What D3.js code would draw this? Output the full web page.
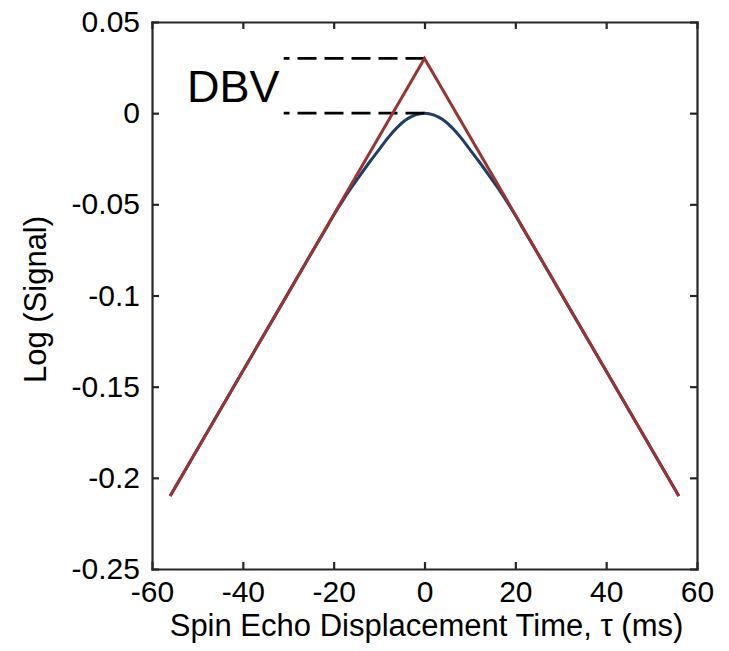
<!DOCTYPE html>
<html>
<head>
<meta charset="utf-8">
<script src="https://cdn.jsdelivr.net/npm/d3@7/dist/d3.min.js"></script>
<style>
  body { margin: 0; background: #fff; }
  svg { display: block; font-family: "Liberation Sans", Arial, Helvetica, sans-serif; }
  .axis path, .axis line { stroke: #262626; stroke-width: 2.2; }
  .axis text { fill: #000; font-size: 30px; }
</style>
</head>
<body>
<svg id="chart" width="729" height="651"></svg>
<script>
// tau (ms) and log-signal values
const tauBlue = [-56, -40, -30, -25, -22, -20, -18, -16, -14, -12, -10, -8, -6, -4, -2, 0,
                 2, 4, 6, 8, 10, 12, 14, 16, 18, 20, 22, 25, 30, 40, 56];
const signalBlue = [-0.2100, -0.1414, -0.0987, -0.0773, -0.0646, -0.0560, -0.0480, -0.0405, -0.0334, -0.0265,
                    -0.0200, -0.0134, -0.0078, -0.0035, -0.0009, 0,
                    -0.0009, -0.0035, -0.0078, -0.0134, -0.0200, -0.0265, -0.0334, -0.0405, -0.0480,
                    -0.0560, -0.0646, -0.0773, -0.0987, -0.1414, -0.2100];
const tauRed = [-56, 0, 56];
const signalRed = [-0.21, 0.03, -0.21];

// DBV guide lines: from tau = 0 back to tau = -31 at the two levels
const dbvLevels = [0.03, 0];
const dbvTauStart = 0;
const dbvTauEnd = -31;

const xTicks = [-60, -40, -20, 0, 20, 40, 60];
const xTickLabels = ['-60', '-40', '-20', '0', '20', '40', '60'];
const yTicks = [0.05, 0, -0.05, -0.1, -0.15, -0.2, -0.25];
const yTickLabels = ['0.05', '0', '-0.05', '-0.1', '-0.15', '-0.2', '-0.25'];

const X_LEFT = 152, X_RIGHT = 697, Y_TOP = 22, Y_BOTTOM = 569;
const TICK = 7;

const svg = d3.select('#chart');

const x = d3.scaleLinear().domain([-60, 60]).range([X_LEFT, X_RIGHT]);
const y = d3.scaleLinear().domain([-0.25, 0.05]).range([Y_BOTTOM, Y_TOP]);

function labelFor(ticks, labels) {
    return v => labels[ticks.indexOf(v)];
}

// bottom / left axes with labels, top / right as plain box sides
svg.append('g')
    .attr('class', 'axis')
    .attr('transform', `translate(0,${Y_BOTTOM})`)
    .call(d3.axisBottom(x).tickValues(xTicks).tickFormat(labelFor(xTicks, xTickLabels))
        .tickSizeInner(-TICK).tickSizeOuter(0).tickPadding(12));

svg.append('g')
    .attr('class', 'axis')
    .attr('transform', `translate(${X_LEFT},0)`)
    .call(d3.axisLeft(y).tickValues(yTicks).tickFormat(labelFor(yTicks, yTickLabels))
        .tickSizeInner(-TICK).tickSizeOuter(0).tickPadding(12));

svg.append('g')
    .attr('class', 'axis')
    .attr('transform', `translate(0,${Y_TOP})`)
    .call(d3.axisTop(x).tickValues(xTicks).tickFormat('').tickSizeInner(-TICK).tickSizeOuter(0));

svg.append('g')
    .attr('class', 'axis')
    .attr('transform', `translate(${X_RIGHT},0)`)
    .call(d3.axisRight(y).tickValues(yTicks).tickFormat('').tickSizeInner(-TICK).tickSizeOuter(0));

svg.selectAll('.axis .domain').attr('stroke-linecap', 'square');

// curves
const line = d3.line().x(d => x(d[0])).y(d => y(d[1]));

svg.append('path')
    .datum(d3.zip(tauBlue, signalBlue))
    .attr('d', line.curve(d3.curveMonotoneX))
    .attr('fill', 'none')
    .attr('stroke', '#1d3d6b')
    .attr('stroke-width', 3);

// DBV dashed guides
dbvLevels.forEach(level => {
    svg.append('line')
        .attr('x1', x(dbvTauStart))
        .attr('x2', x(dbvTauEnd))
        .attr('y1', y(level))
        .attr('y2', y(level))
        .attr('stroke', '#000')
        .attr('stroke-width', 2.8)
        .attr('stroke-dasharray', '19,8');
});

svg.append('path')
    .datum(d3.zip(tauRed, signalRed))
    .attr('d', d3.line().x(d => x(d[0])).y(d => y(d[1])))
    .attr('fill', 'none')
    .attr('stroke', '#9a3432')
    .attr('stroke-width', 3);

svg.append('text')
    .attr('x', 187)
    .attr('y', 102)
    .attr('font-size', 45)
    .attr('fill', '#000')
    .text('DBV');

// axis titles
svg.append('text')
    .attr('x', (X_LEFT + X_RIGHT) / 2 + 2)
    .attr('y', 636)
    .attr('text-anchor', 'middle')
    .attr('font-size', 31)
    .text('Spin Echo Displacement Time, τ (ms)');

svg.append('text')
    .attr('transform', `translate(46,${(Y_TOP + Y_BOTTOM) / 2 + 4}) rotate(-90)`)
    .attr('text-anchor', 'middle')
    .attr('font-size', 31)
    .text('Log (Signal)');
</script>
</body>
</html>
